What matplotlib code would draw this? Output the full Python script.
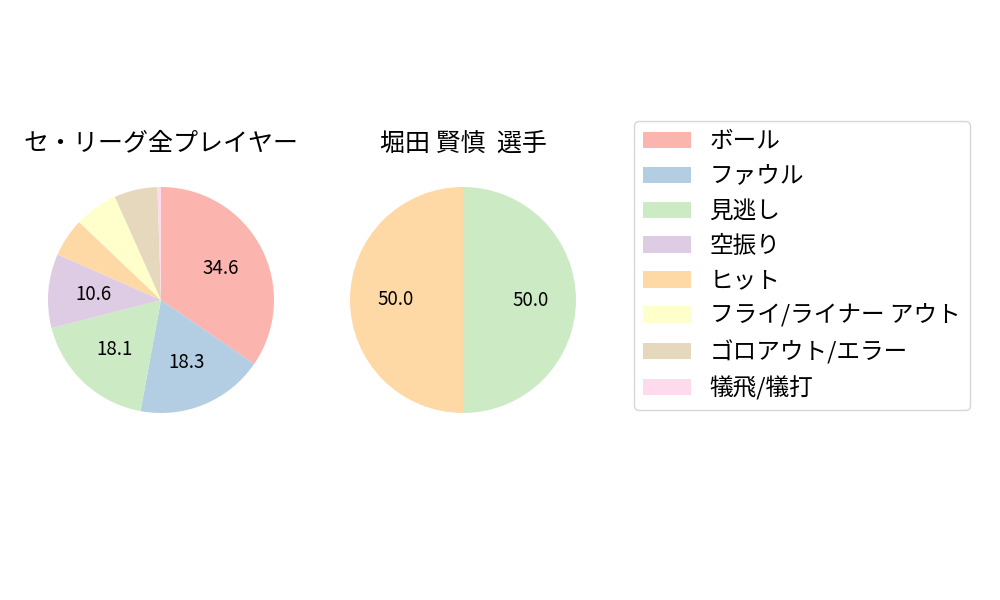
import matplotlib
matplotlib.use("Agg")
import matplotlib.pyplot as plt

plt.rcParams['font.family'] = ['Noto Sans CJK JP', 'DejaVu Sans']

labels = ['ボール', 'ファウル', '見逃し', '空振り', 'ヒット', 'フライ/ライナー アウト', 'ゴロアウト/エラー', '犠飛/犠打']
league_values = [34.6, 18.3, 18.1, 10.6, 5.5, 6.2, 6.2, 0.5]
player_values = [0, 0, 50.0, 0, 50.0, 0, 0, 0]
titles = ['セ・リーグ全プレイヤー', '堀田 賢慎  選手']

colors = plt.get_cmap('Pastel1').colors[:8]


def pct_label(p):
    return f'{p:.1f}' if p >= 10 else ''


fig = plt.figure(figsize=(10, 6), dpi=100)
ax1 = fig.add_axes([0.01975, 0.2646, 0.2825, 0.4708])
ax2 = fig.add_axes([0.32175, 0.2646, 0.2825, 0.4708])

wedges = None
for ax, values, title in zip([ax1, ax2], [league_values, player_values], titles):
    w, _, _ = ax.pie(values, colors=colors, startangle=90, counterclock=False,
                     autopct=pct_label, pctdistance=0.6, textprops={'fontsize': 13.5})
    ax.set_title(title, fontsize=18)
    if wedges is None:
        wedges = w

fig.legend(wedges, labels, loc='upper left', bbox_to_anchor=(0.634, 1 - 121 / 600),
           borderaxespad=0, fontsize=17)

fig.savefig('out.png')
